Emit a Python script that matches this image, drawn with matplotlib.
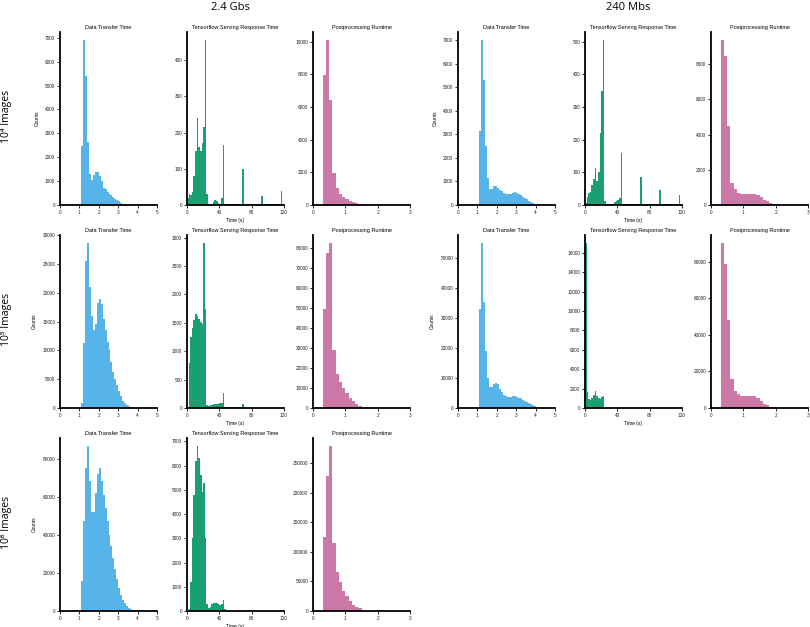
import numpy as np
import matplotlib
matplotlib.use("Agg")
import matplotlib.pyplot as plt

plt.rcParams['font.family'] = ['Liberation Sans', 'DejaVu Sans']

BLUE = '#56B4E9'
GREEN = '#1B9E73'
PINK = '#CC79A7'

# column headers and row labels
bandwidths = ['2.4 Gbs', '240 Mbs']
row_labels = ['10⁴ Images', '10⁵ Images', '10⁶ Images']

# data transfer time, bins of 0.1 s starting at 1.1 s
dt_gbs_1e4 = [2450, 6900, 5400, 2650, 1300, 1050, 1250, 1400, 1400, 1200,
              1000, 700, 650, 560, 480, 400, 330, 260, 200, 150,
              100, 60, 30, 15, 8]
dt_mbs_1e4 = [3150, 7000, 5300, 2500, 1150, 700, 700, 800, 820, 720,
              650, 600, 520, 480, 450, 450, 480, 520, 540, 530,
              480, 420, 350, 300, 240, 180, 130, 90, 60, 30,
              12, 5]
dt_gbs_1e5 = [900, 11200, 25500, 28600, 21000, 16000, 13500, 14500, 18300, 19000,
              18000, 15500, 13500, 11500, 10000, 8000, 6300, 5000, 4000, 3000,
              2000, 1300, 800, 500, 300, 200, 100, 60, 40, 30,
              20, 20, 20, 150, 20, 10]
dt_mbs_1e5 = [33000, 55000, 35500, 19000, 10000, 7000, 7000, 8000, 8500, 8000,
              6500, 5500, 4500, 4000, 3800, 3700, 3800, 4000, 4000, 3800,
              3500, 3200, 2800, 2400, 2000, 1600, 1200, 900, 600, 350,
              150, 50]
dt_gbs_1e6 = [16000, 47000, 75000, 86500, 68000, 52000, 52000, 62000, 72000, 75000,
              68000, 61000, 54000, 47000, 40000, 34000, 28000, 22000, 17000, 12000,
              8500, 6000, 4000, 2600, 1600, 1000, 600, 350, 200, 100]

# tensorflow serving response time, bins of 2 s starting at 0 s
tf_gbs_1e4 = [20, 30, 28, 35, 80, 150, 240, 160, 150, 170,
              215, 455, 30, 4, 3, 3, 8, 13, 12, 5,
              3, 20, 165, 3, 2, 2, 2, 2, 2, 2,
              2, 2, 2, 2, 100, 2, 2, 2, 2, 2,
              2, 2, 2, 2, 2, 2, 25, 2, 2, 2,
              2, 2, 2, 2, 2, 2, 2, 2, 40, 2]
tf_mbs_1e4 = [5, 25, 38, 40, 60, 80, 112, 75, 100, 220,
              350, 505, 12, 2, 2, 2, 3, 3, 10, 12,
              14, 20, 160, 4, 2, 2, 2, 2, 2, 2,
              2, 2, 2, 2, 85, 2, 2, 2, 2, 2,
              2, 2, 2, 2, 2, 2, 45, 2, 2, 2,
              2, 2, 2, 2, 2, 2, 2, 2, 30, 2]
tf_gbs_1e5 = [0, 800, 1250, 1400, 1550, 1650, 1620, 1560, 1520, 1480,
              2900, 1750, 60, 40, 55, 60, 65, 70, 70, 75,
              80, 90, 260, 15, 15, 14, 14, 13, 12, 12,
              11, 10, 10, 9, 70, 4, 3, 3, 3, 3,
              3, 3, 3, 3, 3, 3, 3, 3, 3, 3,
              3, 3, 3, 3, 3, 3, 3, 3, 3, 3]
tf_mbs_1e5 = [17000, 1600, 900, 850, 1000, 1300, 1800, 1200, 1000, 950,
              1100, 1200, 0, 0, 0, 0, 0, 0, 0, 0,
              0, 0, 0, 0, 0, 0, 0, 0, 0, 0,
              0, 0, 0, 0, 0, 0, 0, 0, 0, 0,
              0, 0, 0, 0, 0, 0, 0, 0, 0, 0,
              0, 0, 0, 0, 0, 0, 0, 0, 0, 0]
tf_gbs_1e6 = [0, 100, 1200, 3000, 4800, 6200, 6800, 6300, 5600, 4900,
              5300, 3000, 300, 120, 180, 280, 330, 350, 310, 280,
              260, 300, 450, 100, 20, 14, 12, 12, 11, 10,
              10, 9, 9, 8, 60, 4, 3, 3, 3, 3,
              3, 3, 3, 3, 3, 3, 3, 3, 3, 3,
              3, 3, 3, 3, 3, 3, 3, 3, 3, 3]

# postprocessing runtime, bins of 0.1 s starting at 0.3 s
pp_gbs_1e4 = [7960, 10100, 6430, 1960, 1040, 675, 510, 370, 250, 170,
              110, 70, 40, 20, 10]
pp_mbs_1e4 = [9350, 8450, 4480, 1230, 900, 700, 650, 650, 650, 650,
              620, 560, 430, 300, 200, 120, 70, 40, 20, 10]
pp_gbs_1e5 = [49700, 77300, 82300, 29000, 17000, 13200, 10000, 7500, 5000, 3300,
              2000, 1200, 700, 400, 200, 100]
pp_mbs_1e5 = [90000, 78500, 47800, 15800, 9500, 7600, 6800, 6700, 6700, 6700,
              6300, 5500, 3600, 2300, 1400, 800, 450, 200, 100]
pp_gbs_1e6 = [126000, 229000, 279000, 115000, 66000, 49000, 34000, 25000, 17000, 11000,
              7000, 4500, 2500, 1300, 700, 300]

KINDS = {
    'dt': dict(start=1.1, width=0.1, xlim=(0, 5), xticks=[0, 1, 2, 3, 4, 5],
               title='Data Transfer Time', color=BLUE),
    'tf': dict(start=0.0, width=2.0, xlim=(0, 120), xticks=[0, 40, 80, 120],
               title='Tensorflow Serving Response Time', color=GREEN),
    'pp': dict(start=0.3, width=0.1, xlim=(0, 3), xticks=[0, 1, 2, 3],
               title='Postprocessing Runtime', color=PINK),
}

# (row, col, kind, counts, y tick step)
panels = [
    (0, 0, 'dt', dt_gbs_1e4, 1000),
    (0, 1, 'tf', tf_gbs_1e4, 100),
    (0, 2, 'pp', pp_gbs_1e4, 2000),
    (0, 3, 'dt', dt_mbs_1e4, 1000),
    (0, 4, 'tf', tf_mbs_1e4, 100),
    (0, 5, 'pp', pp_mbs_1e4, 2000),
    (1, 0, 'dt', dt_gbs_1e5, 5000),
    (1, 1, 'tf', tf_gbs_1e5, 500),
    (1, 2, 'pp', pp_gbs_1e5, 10000),
    (1, 3, 'dt', dt_mbs_1e5, 10000),
    (1, 4, 'tf', tf_mbs_1e5, 2000),
    (1, 5, 'pp', pp_mbs_1e5, 20000),
    (2, 0, 'dt', dt_gbs_1e6, 20000),
    (2, 1, 'tf', tf_gbs_1e6, 1000),
    (2, 2, 'pp', pp_gbs_1e6, 50000),
]

W, H = 810, 627
COL_LEFT = [60, 187, 313, 458, 585, 711]
ROW_TOP = [32, 235, 438]
AX_W, AX_H = 97, 173

fig = plt.figure(figsize=(W / 100, H / 100), dpi=100)


def add_panel(row, col, kind, counts, ystep):
    k = KINDS[kind]
    left = COL_LEFT[col] / W
    bottom = 1 - (ROW_TOP[row] + AX_H) / H
    ax = fig.add_axes([left, bottom, AX_W / W, AX_H / H])

    edges = np.round(k['start'] + k['width'] * np.arange(len(counts) + 1), 3)
    ax.hist(edges[:-1], bins=edges, weights=counts, histtype='stepfilled',
            color=k['color'], lw=0)

    ax.set_xlim(*k['xlim'])
    ax.set_xticks(k['xticks'])
    top = ax.get_ylim()[1]
    ax.set_yticks(np.arange(0, top, ystep))

    for side in ['top', 'right']:
        ax.spines[side].set_visible(False)
    for side in ['left', 'bottom']:
        ax.spines[side].set_linewidth(1.3)
    ax.tick_params(direction='out', length=2, width=0.6, pad=1.5,
                   labelsize=3.4, labelcolor='#222222')
    ax.set_title(k['title'], fontsize=4, pad=2.5)

    if kind == 'dt':
        ax.set_ylabel('Counts', fontsize=3.5, labelpad=4)
    if kind == 'tf':
        ax.set_xlabel('Time (s)', fontsize=3.5, labelpad=2)
    return ax


for p in panels:
    add_panel(*p)

# column headers
fig.text(230 / W, 1 - 7 / H, bandwidths[0], ha='center', va='center',
         fontsize=8, family=['Open Sans', 'DejaVu Sans'])
fig.text(628 / W, 1 - 7 / H, bandwidths[1], ha='center', va='center',
         fontsize=8, family=['Open Sans', 'DejaVu Sans'])

# row labels
for i, lab in enumerate(row_labels):
    yc = ROW_TOP[i] + AX_H / 2 - 2
    fig.text(7 / W, 1 - yc / H, lab, rotation=90, ha='center', va='center',
             fontsize=7.5, family=['Open Sans', 'DejaVu Sans'])

fig.savefig('out.png', dpi=100)
